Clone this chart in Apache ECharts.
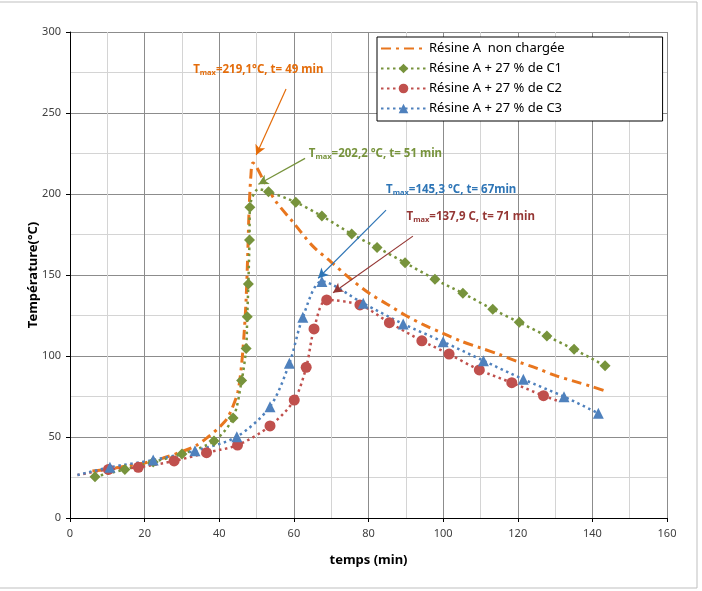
<!DOCTYPE html>
<html>
<head>
<meta charset="utf-8">
<script src="https://cdn.jsdelivr.net/npm/echarts@6/dist/echarts.min.js"></script>
<style>
html, body { margin: 0; padding: 0; background: #fff; }
#main { width: 702px; height: 591px; }
</style>
</head>
<body>
<div id="main"></div>
<script>
// données : [temps (min), température (°C)]
var resineA = [
    [6, 29], [10, 30], [15, 32], [20, 34], [25, 37], [30, 41], [34, 45], [37, 50],
    [40, 56], [42, 61], [43.5, 68], [45, 78], [46, 95], [46.7, 115], [47.2, 135],
    [47.6, 160], [48, 190], [48.5, 212], [49, 219.1], [52, 208], [55, 196], [60, 182],
    [65, 168], [70, 158], [75, 148], [80, 139], [85, 132], [90, 125], [95, 119],
    [100, 114], [105, 109], [110, 105], [115, 101], [120, 96.5], [125, 92.5],
    [130, 88], [135, 84.5], [140, 81], [144, 78]
];
var resineC1 = [
    [6.7, 25.5], [14.7, 30], [22.3, 34.6], [30, 39.5], [38.6, 47.5], [43.7, 61.7],
    [46, 84.8], [47.2, 104.7], [47.5, 124.3], [47.8, 144.4], [48.1, 171.6], [48.2, 191.8],
    [50.5, 203], [53.2, 201.4], [60.5, 194.9], [67.5, 186.4], [75.5, 175.3], [82.3, 167],
    [89.8, 157.6], [97.8, 147.3], [105.3, 138.7], [113.3, 128.8], [120.4, 120.8],
    [127.8, 112.3], [135.1, 104.1], [143.4, 94]
];
var resineC2 = [
    [2, 26.5], [10.3, 30], [18.3, 31.3], [27.9, 35.2], [36.6, 40.3], [44.9, 45],
    [53.6, 56.8], [60.1, 72.8], [63.3, 93], [65.4, 116.7], [68.8, 134.6], [77.7, 131.5],
    [85.6, 120.6], [94.3, 109.4], [101.6, 101.2], [109.7, 91.4], [118.4, 83.5],
    [126.9, 75.5], [130.5, 72.5]
];
var resineC3 = [
    [2, 26.5], [10.7, 31.3], [22.3, 35.8], [33.5, 41.5], [44.7, 50.2], [53.6, 68.7],
    [58.8, 95.5], [62.4, 123.9], [67.5, 146], [78.6, 132.5], [89.3, 119.8], [100, 108.8],
    [110.8, 97.1], [121.5, 85.6], [132.4, 74.9], [141.6, 64.6]
];
// points tracés sans marqueur (début / fin de courbe)
var hiddenC1 = [12];
var hiddenC2 = [0, 18];
var hiddenC3 = [0];

var legendNames = ['Résine A  non chargée', 'Résine A + 27 % de C1', 'Résine A + 27 % de C2', 'Résine A + 27 % de C3'];

// annotations : texte, point du texte, début et pointe de la flèche
var notes = [
    { v: '=219,1°C, t= 49 min', at: [33, 276.5], from: [57.9, 264.8], to: [49.9, 224], color: '#E46C0A' },
    { v: '=202,2 °C, t= 51 min', at: [64, 224.7], from: [63, 222], to: [50.5, 206], color: '#77933C' },
    { v: '=145,3 °C, t= 67min', at: [84.7, 202.5], from: [84.7, 190], to: [66.5, 148], color: '#2E75B6' },
    { v: '=137,9 C, t= 71 min', at: [90.2, 186], from: [91.9, 174], to: [70.5, 139], color: '#953735' }
];

var colors = ['#E8761E', '#77933C', '#C0504D', '#4F81BD'];

function withHidden(data, hidden) {
    return data.map(function (d, i) {
        if (hidden.indexOf(i) >= 0) {
            return { value: d, symbol: 'none' };
        }
        return d;
    });
}

function noteMarks(n) {
    return {
        markLine: {
            silent: true,
            symbol: ['none', 'arrow'],
            symbolSize: [8, 10],
            lineStyle: { color: n.color, type: 'solid', width: 1.2 },
            label: { show: false },
            data: [[{ coord: n.from }, { coord: n.to }]]
        },
        markPoint: {
            silent: true,
            symbol: 'circle',
            symbolSize: 0,
            data: [{ coord: n.at }],
            label: {
                show: true,
                position: 'right',
                distance: 0,
                formatter: '{a|T}{b|max}{a|' + n.v + '}',
                rich: {
                    a: { color: n.color, fontSize: 11.5, fontWeight: 'bold', fontFamily: 'Noto Sans' },
                    b: { color: n.color, fontSize: 7.5, fontWeight: 'bold', fontFamily: 'Noto Sans', padding: [6, 0, 0, 0] }
                }
            }
        }
    };
}

var myChart = echarts.init(document.getElementById('main'));

var dotted = [2.5, 3.5];

var series = [
    {
        name: legendNames[0],
        type: 'line',
        smooth: 0.3,
        showSymbol: false,
        symbol: 'none',
        lineStyle: { color: colors[0], width: 3, type: [10, 5, 3, 5] },
        itemStyle: { color: colors[0] },
        data: resineA
    },
    {
        name: legendNames[1],
        type: 'line',
        smooth: 0.3,
        symbol: 'diamond',
        symbolSize: 11,
        lineStyle: { color: colors[1], width: 2.5, type: dotted },
        itemStyle: { color: colors[1] },
        data: withHidden(resineC1, hiddenC1)
    },
    {
        name: legendNames[2],
        type: 'line',
        smooth: 0.3,
        symbol: 'circle',
        symbolSize: 11,
        lineStyle: { color: colors[2], width: 2.5, type: dotted },
        itemStyle: { color: colors[2] },
        data: withHidden(resineC2, hiddenC2)
    },
    {
        name: legendNames[3],
        type: 'line',
        smooth: 0.3,
        symbol: 'triangle',
        symbolSize: 11,
        lineStyle: { color: colors[3], width: 2.5, type: dotted },
        itemStyle: { color: colors[3] },
        data: withHidden(resineC3, hiddenC3)
    }
];
// flèches et textes Tmax
Object.assign(series[0], noteMarks(notes[0]));
Object.assign(series[1], noteMarks(notes[1]));
Object.assign(series[3], noteMarks(notes[2]));
Object.assign(series[2], noteMarks(notes[3]));

var option = {
    animation: false,
    backgroundColor: '#fff',
    textStyle: { fontFamily: 'Noto Sans' },
    graphic: [
        {
            type: 'rect',
            silent: true,
            shape: { x: -2, y: 2, width: 699, height: 586 },
            style: { fill: 'none', stroke: '#bfbfbf', lineWidth: 1 }
        }
    ],
    legend: {
        orient: 'vertical',
        left: 377,
        top: 37,
        padding: [5, 98, 6, 3],
        itemGap: 7,
        itemWidth: 45,
        itemHeight: 12,
        backgroundColor: '#fff',
        borderColor: '#000',
        borderWidth: 1,
        borderRadius: 0,
        textStyle: { fontSize: 13, color: '#000', fontFamily: 'Noto Sans', padding: [0, 0, 0, -2] },
        data: [
            { name: legendNames[0], itemStyle: { opacity: 0 } },
            legendNames[1],
            legendNames[2],
            legendNames[3]
        ]
    },
    grid: {
        left: 70,
        right: 35,
        top: 32,
        bottom: 73,
        containLabel: false
    },
    xAxis: {
        type: 'value',
        min: 0,
        max: 160,
        interval: 20,
        name: 'temps (min)',
        nameLocation: 'middle',
        nameGap: 36,
        nameTextStyle: { fontSize: 13, fontWeight: 'bold', color: '#000' },
        axisLine: { show: true, lineStyle: { color: '#000', width: 1 } },
        axisTick: { show: true, length: 4, lineStyle: { color: '#000' } },
        axisLabel: { fontSize: 11, color: '#404040', margin: 10 },
        splitLine: { show: true, lineStyle: { color: '#8c8c8c', width: 1 } },
        minorTick: { show: false, splitNumber: 2 },
        minorSplitLine: { show: true, lineStyle: { color: '#d4d4d4', width: 1 } }
    },
    yAxis: {
        type: 'value',
        min: 0,
        max: 300,
        interval: 50,
        name: 'Température(°C)',
        nameLocation: 'middle',
        nameRotate: 90,
        nameGap: 30,
        nameMoveOverlap: false,
        nameTextStyle: { fontSize: 13, fontWeight: 'bold', color: '#000' },
        axisLine: { show: true, lineStyle: { color: '#000', width: 1 } },
        axisTick: { show: true, length: 4, lineStyle: { color: '#000' } },
        axisLabel: { fontSize: 11, color: '#404040', margin: 9 },
        splitLine: { show: true, lineStyle: { color: '#8c8c8c', width: 1 } },
        minorTick: { show: false, splitNumber: 2 },
        minorSplitLine: { show: true, lineStyle: { color: '#d4d4d4', width: 1 } }
    },
    series: series
};

myChart.setOption(option);
</script>
</body>
</html>
